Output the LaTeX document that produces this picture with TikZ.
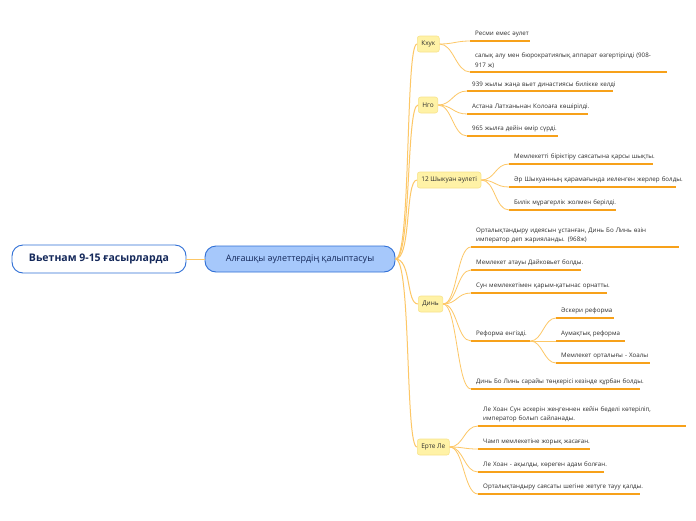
\documentclass[tikz,border=0pt]{standalone}
\usepackage{fontspec}
\setmainfont{Open Sans}
\begin{document}
\begin{tikzpicture}[x=1pt,y=-1pt,
  rootbox/.style={draw=rootblue,fill=white,line width=0.9pt,rounded corners=11pt,minimum width=174pt,minimum height=28pt,font=\fontsize{10.5}{12}\selectfont\bfseries,text=navy},
  mainbox/.style={draw=rootblue,fill=mainblue,line width=0.9pt,rounded corners=11pt,minimum width=190pt,minimum height=26pt,font=\fontsize{9}{10}\selectfont,text=navy},
  branch/.style={draw=ybord,fill=yfill,line width=0.6pt,rounded corners=2.5pt,minimum height=16pt,inner xsep=4pt,anchor=west,font=\fontsize{6.5}{8}\selectfont,text=darktext},
  leaf/.style={anchor=south west,inner xsep=5pt,inner ysep=3.5pt,align=left,font=\fontsize{6.2}{9.5}\selectfont,text=darktext},
  uline/.style={draw=uorange,line width=1.3pt},
  conn/.style={draw=corange,line width=0.8pt},
  mconn/.style={draw=corange,line width=1pt}
]
\definecolor{rootblue}{HTML}{2F6FD6}
\definecolor{mainblue}{HTML}{A6C8FB}
\definecolor{navy}{HTML}{14285A}
\definecolor{yfill}{HTML}{FFF2A6}
\definecolor{ybord}{HTML}{F8E38C}
\definecolor{darktext}{HTML}{2E2E2E}
\definecolor{uorange}{HTML}{F7A11A}
\definecolor{corange}{HTML}{FDC766}
\useasboundingbox[fill=white] (0,0) rectangle (696,520);

% root and main
\node[rootbox] (root) at (99,259) {Вьетнам 9-15 ғасырларда};
\node[mainbox] (main) at (300,259) {Алғашқы әулеттердің қалыптасуы};
\draw[mconn] (root.east) -- (main.west);

% branches
\node[branch] (kh) at (417,44) {Кхук};
\node[branch] (ng) at (418,105) {Нго};
\node[branch] (sh) at (417,180) {12 Шыкуан әулеті};
\node[branch] (dn) at (418,304) {Динь};
\node[branch] (el) at (417,447) {Ерте Ле};
\foreach \b in {kh,ng,sh,dn,el}
  \draw[mconn] (main.east) .. controls +(16,0) and +(-12,0) .. (\b.west);

% leaves: Кхук
\node[leaf,text width=50pt] (kh1) at (470,41) {\mbox{Ресми емес әулет}};
\node[leaf,text width=187pt] (kh2) at (470,72) {\mbox{салық алу мен бюрократиялық аппарат өзгертірілді (908-}\\\mbox{917 ж)}};
% Нго
\node[leaf,text width=136pt] (ng1) at (467,91) {\mbox{939 жылы жаңа вьет династиясы билікке келді}};
\node[leaf,text width=111pt] (ng2) at (467,114) {\mbox{Астана Латханьнан Колоаға көшірілді.}};
\node[leaf,text width=81pt] (ng3) at (467,136) {\mbox{965 жылға дейін өмір сүрді.}};
% 12 Шыкуан
\node[leaf,text width=134pt] (sh1) at (509,164) {\mbox{Мемлекетті біріктіру саясатына қарсы шықты.}};
\node[leaf,text width=157pt] (sh2) at (509,187) {\mbox{Әр Шыкуанның қарамағында иеленген жерлер болды.}};
\node[leaf,text width=97pt] (sh3) at (509,210) {\mbox{Билік мұрагерлік жолмен берілді.}};
% Динь
\node[leaf,text width=198pt] (dn1) at (471,247) {\mbox{Орталықтандыру идеясын ұстанған, Динь Бо Линь өзін}\\\mbox{император деп жарияланды. (968ж)}};
\node[leaf,text width=100pt] (dn2) at (471,270) {\mbox{Мемлекет атауы Дайковьет болды.}};
\node[leaf,text width=126pt] (dn3) at (471,293) {\mbox{Сун мемлекетімен қарым-қатынас орнатты.}};
\node[leaf,text width=49pt] (dn4) at (471,341) {\mbox{Реформа енгізді.}};
\node[leaf,text width=159pt] (dn5) at (471,389) {\mbox{Динь Бо Линь сарайы төңкерісі кезінде құрбан болды.}};
% Реформа sub-leaves
\node[leaf,text width=48pt] (rf1) at (556,318) {\mbox{Әскери реформа}};
\node[leaf,text width=59pt] (rf2) at (556,341) {\mbox{Аумақтық реформа}};
\node[leaf,text width=84pt] (rf3) at (556,363) {\mbox{Мемлекет орталығы - Хоалы}};
% Ерте Ле
\node[leaf,text width=198pt] (el1) at (478,426) {\mbox{Ле Хоан Сун әскерін жеңгеннен кейін беделі көтеріліп,}\\\mbox{император болып сайланады.}};
\node[leaf,text width=102pt] (el2) at (478,449) {\mbox{Чамп мемлекетіне жорық жасаған.}};
\node[leaf,text width=116pt] (el3) at (478,472) {\mbox{Ле Хоан - ақылды, көреген адам болған.}};
\node[leaf,text width=152pt] (el4) at (478,494) {\mbox{Орталықтандыру саясаты шегіне жетуге тауу қалды.}};

% underlines
\foreach \l in {kh1,kh2,ng1,ng2,ng3,sh1,sh2,sh3,dn1,dn2,dn3,dn4,dn5,rf1,rf2,rf3,el1,el2,el3,el4}
  \draw[uline] (\l.south west) -- (\l.south east);

% connectors branch -> leaves
\foreach \b/\l in {kh/kh1,kh/kh2,ng/ng1,ng/ng2,ng/ng3,sh/sh1,sh/sh2,sh/sh3,dn/dn1,dn/dn2,dn/dn3,dn/dn4,dn/dn5,el/el1,el/el2,el/el3,el/el4}
  \draw[conn] (\b.east) .. controls +(14,0) and +(-14,0) .. (\l.south west);
\foreach \l in {rf1,rf2,rf3}
  \draw[conn] (dn4.south east) .. controls +(12,0) and +(-12,0) .. (\l.south west);
\end{tikzpicture}
\end{document}
